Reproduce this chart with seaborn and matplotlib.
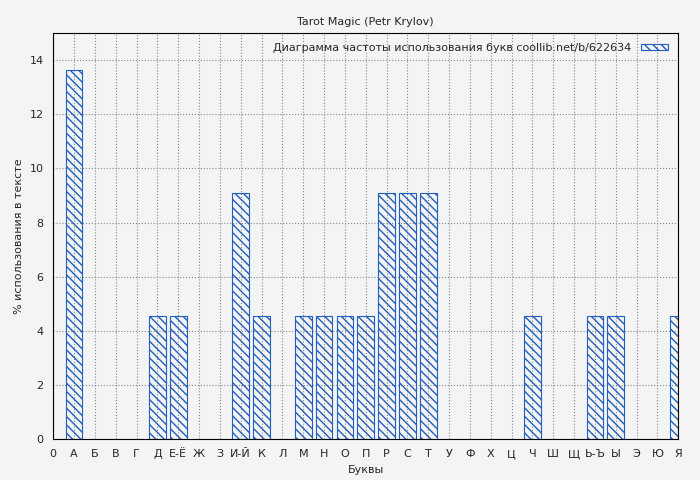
import matplotlib
matplotlib.use("Agg")
import matplotlib.pyplot as plt
import seaborn as sns
import pandas as pd

letters = ["0", "А", "Б", "В", "Г", "Д", "Е-Ё", "Ж", "З", "И-Й", "К", "Л", "М", "Н", "О", "П",
           "Р", "С", "Т", "У", "Ф", "Х", "Ц", "Ч", "Ш", "Щ", "Ь-Ъ", "Ы", "Э", "Ю", "Я"]
values = [0, 13.64, 0, 0, 0, 4.55, 4.55, 0, 0, 9.09, 4.55, 0, 4.55, 4.55, 4.55, 4.55,
          9.09, 9.09, 9.09, 0, 0, 0, 0, 4.55, 0, 0, 4.55, 4.55, 0, 0, 4.55]

df = pd.DataFrame({"pos": range(len(letters)), "val": values})

sns.set_style("whitegrid")
plt.rcParams['font.family'] = ['DejaVu Sans']
plt.rcParams['hatch.color'] = '#1f5fbf'

fig, ax = plt.subplots(figsize=(7, 4.8), dpi=100)
fig.patch.set_facecolor('#f4f4f4')
ax.set_facecolor('#f4f4f4')

nz = df[df.val > 0]
sns.barplot(data=nz, x="pos", y="val", native_scale=True, width=0.8, ax=ax,
            color='white', edgecolor='#1f5fbf', linewidth=0.8, hatch='\\\\\\\\',
            label="Диаграмма частоты использования букв coollib.net/b/622634")
for p in ax.patches:
    p.set_facecolor('none')
    p.set_edgecolor('#1f5fbf')
    p.set_hatch('\\\\\\\\')

ax.set_xlim(0, 30)
ax.set_ylim(0, 15)
ax.set_xticks(range(len(letters)))
ax.set_xticklabels(letters, fontsize=8)
ax.set_yticks(range(0, 15, 2))
ax.tick_params(axis='y', labelsize=8)
ax.grid(True, color='#888888', linestyle=':', linewidth=0.8)
for s in ax.spines.values():
    s.set_color('black')
    s.set_linewidth(0.8)
ax.set_xlabel("Буквы", fontsize=8)
ax.set_ylabel("% использования в тексте", fontsize=8)
ax.set_title("Tarot Magic (Petr Krylov)", fontsize=8)
ax.legend(loc='upper right', fontsize=8, frameon=False, markerfirst=False,
          handlelength=2.5, handleheight=0.4)

fig.subplots_adjust(left=0.076, right=0.969, top=0.931, bottom=0.085)
fig.savefig("out.png", dpi=100, facecolor=fig.get_facecolor())
